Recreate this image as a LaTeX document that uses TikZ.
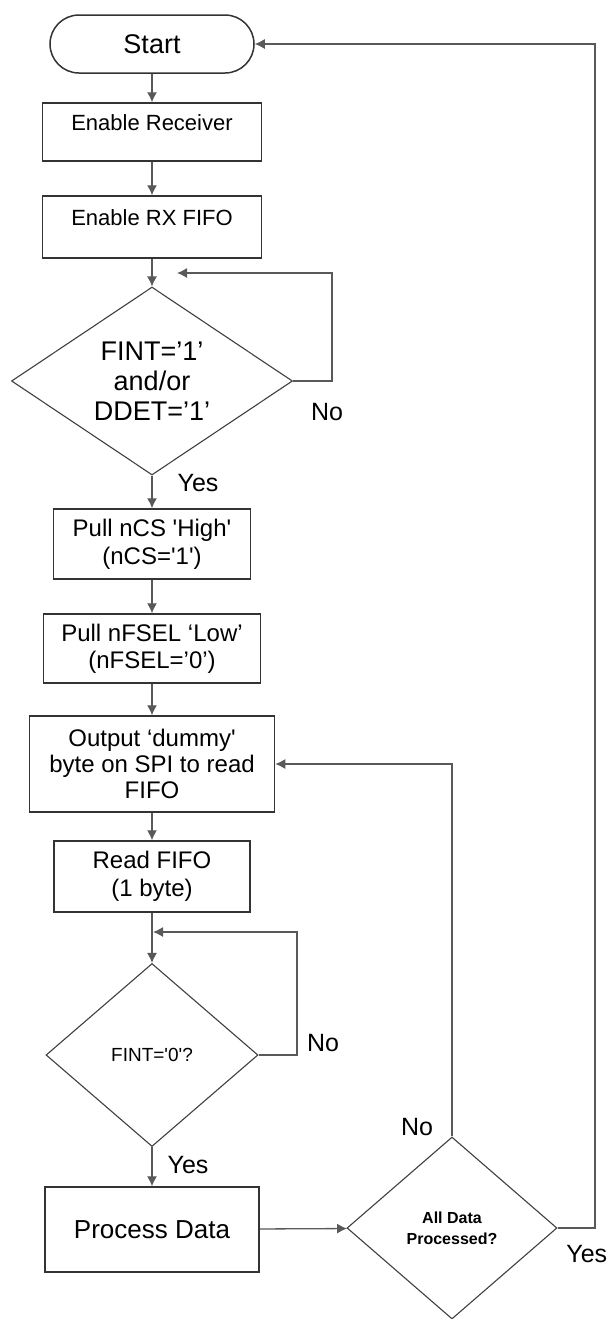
\documentclass[tikz,border=0pt]{standalone}
\usepackage{fontspec}
\setmainfont{Liberation Sans}
\usetikzlibrary{shapes.geometric,arrows.meta}
\tikzstyle{box}=[rectangle, draw=black!80, line width=0.75pt, fill=white, align=center, inner sep=2pt, font=\fontsize{12}{14}\selectfont]
\tikzstyle{term}=[box, rounded corners=14.5pt]
\tikzstyle{toptext}=[text depth=9.5pt, font=\fontsize{11}{13}\selectfont]
\tikzstyle{decision}=[diamond, draw=black!75, line width=0.55pt, fill=white, align=center, inner sep=0pt]
\tikzstyle{arrow}=[draw=black!65, line width=0.65pt, -{Latex[length=5pt,width=5pt]}]
\tikzstyle{annot}=[align=center, inner sep=0pt, font=\fontsize{12.5}{14}\selectfont]

\begin{document}
\begin{tikzpicture}[x=0.5pt, y=-0.5pt]
	\fill[white] (0,0) rectangle (610,1319);
	\useasboundingbox (0,0) rectangle (610,1319);

	% main column
	\node[term, minimum width=102pt, minimum height=29pt, font=\fontsize{13.5}{15}\selectfont](start) at (152,44){Start};
	\node[box, toptext, minimum width=109.5pt, minimum height=29pt](recv) at (152,132){Enable Receiver};
	\node[box, toptext, minimum width=109.5pt, minimum height=31pt](rxfifo) at (152,227){Enable RX FIFO};
	\node[decision, minimum width=140.5pt, minimum height=94pt, shape aspect=1.5, font=\fontsize{13.5}{15}\selectfont](fint1) at (152,381){FINT=’1’\\and/or\\DDET=’1’};
	\node[box, minimum width=98.5pt, minimum height=35pt](ncs) at (152,544){Pull nCS \textquotesingle{}High\textquotesingle\\(nCS=\textquotesingle{}1\textquotesingle)};
	\node[box, minimum width=108.5pt, minimum height=34.5pt, font=\fontsize{12}{13.5}\selectfont](nfsel) at (152,648.5){Pull nFSEL ‘Low’\\(nFSEL=’0’)};
	\node[box, minimum width=122.5pt, minimum height=48pt, font=\fontsize{12}{13}\selectfont](dummy) at (152,764){Output ‘dummy\textquotesingle\\byte on SPI to read\\FIFO};
	\node[box, minimum width=98pt, minimum height=35.5pt](rdfifo) at (152,876.5){Read FIFO\\(1 byte)};
	\node[decision, minimum width=106pt, minimum height=91.5pt, font=\fontsize{9.5}{11}\selectfont](fint0) at (152,1055){FINT=\textquotesingle{}0\textquotesingle?};
	\node[box, minimum width=107pt, minimum height=42.5pt, font=\fontsize{13}{15}\selectfont](proc) at (152,1229.5){Process Data};
	\node[decision, minimum width=105pt, minimum height=91pt, font=\bfseries\fontsize{8}{10.5}\selectfont](alldone) at (452,1228){All Data\\Processed?};

	% labels
	\node[annot](no1) at (327,412){No};
	\node[annot](yes1) at (198,483){Yes};
	\node[annot](no2) at (323,1043){No};
	\node[annot](yes2) at (188,1165){Yes};
	\node[annot](no3) at (417,1127){No};
	\node[annot, anchor=west](yes3) at (566,1254){Yes};

	\coordinate (loopa) at (332,273);
	\coordinate (loopatip) at (177,273);
	\coordinate (loopb) at (297,932);
	\coordinate (loopbtip) at (153,932);
	\coordinate (back) at (595,44);

	\draw[arrow] (start) -- (recv);
	\draw[arrow] (recv) -- (rxfifo);
	\draw[arrow] (rxfifo) -- (fint1);
	\draw[arrow] (fint1.east) -| (loopa) -- (loopatip);
	\draw[arrow] (fint1) -- (ncs);
	\draw[arrow] (ncs) -- (nfsel);
	\draw[arrow] (nfsel) -- (dummy);
	\draw[arrow] (dummy) -- (rdfifo);
	\draw[arrow] (rdfifo) -- (fint0);
	\draw[arrow] (fint0.east) -| (loopb) -- (loopbtip);
	\draw[arrow] (fint0) -- (proc);
	\draw[arrow] (proc) -- (alldone);
	\draw[arrow] (alldone.north) |- (dummy.east);
	\draw[arrow] (alldone.east) -| (back) -- (start.east);

\end{tikzpicture}
\end{document}
